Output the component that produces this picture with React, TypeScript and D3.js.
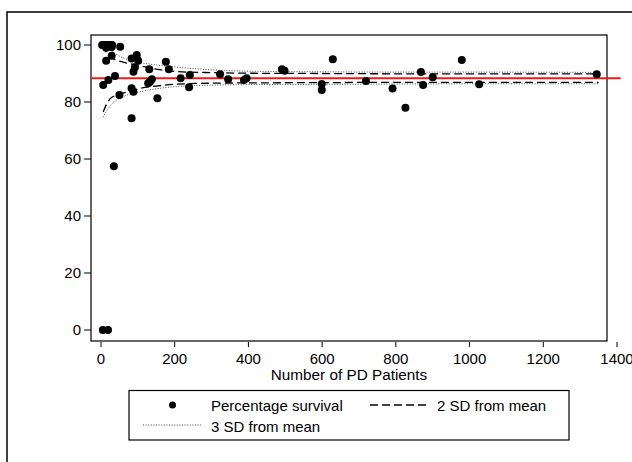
import React from 'react';
import * as d3 from 'd3';

// survival points: number of PD patients vs percentage survival
const patients = [
  3, 6, 9, 12, 16, 20, 25, 30, 14, 29, 52,
  14, 29, 83, 97, 101, 88, 92, 131, 176, 184, 216, 241, 323, 345, 388, 395,
  6, 20, 38, 83, 88, 50, 128, 138, 133, 153, 239, 83, 35, 5, 19,
  491, 498, 629, 599, 599, 719, 791, 826, 868, 874, 900, 979, 1026, 1345,
];
const survival = [
  100, 100, 100, 100, 100, 100, 100, 100, 99, 99.3, 99.4,
  94.5, 96.2, 95.3, 96.5, 94.5, 90.6, 92.2, 91.5, 94.1, 91.5, 88.3, 89.5, 89.7, 88, 87.7, 88.3,
  86, 87.7, 89.1, 84.8, 83.6, 82.5, 86.6, 88, 87.1, 81.3, 85.2, 74.3, 57.5, 0, 0,
  91.5, 91, 95, 86.3, 84.2, 87.4, 84.7, 78, 90.5, 86, 88.7, 94.7, 86.2, 89.7,
];

const meanSurvival = 88.3;

// control limits
const limitN = [6, 10, 15, 25, 40, 60, 100, 150, 200, 300, 400, 600, 800, 1000, 1350];
const lower2 = [76.5, 77.8, 79.2, 81.2, 82.3, 83.1, 84.6, 85.6, 86.2, 86.6, 86.7, 86.8, 86.9, 86.9, 86.9];
const upper2 = [100, 98.6, 97.3, 95.8, 94.8, 94.0, 92.9, 91.5, 90.7, 90.3, 90.1, 90.0, 89.9, 89.9, 89.9];
const lower3 = [74.6, 75.8, 76.8, 78.6, 80.4, 81.9, 83.4, 84.6, 85.4, 85.9, 86.1, 86.2, 86.3, 86.4, 86.4];
const upper3 = [101, 100.2, 99.4, 98.2, 96.8, 95.5, 94.0, 93.0, 92.3, 91.3, 90.8, 90.6, 90.5, 90.5, 90.4];

const xTicks = [0, 200, 400, 600, 800, 1000, 1200, 1400];
const yTicks = [0, 20, 40, 60, 80, 100];

const font = '"Liberation Sans", Arial, sans-serif';

export default function App() {
  const width = 632;
  const height = 462;
  const box = { left: 91, top: 35, right: 607, bottom: 341 };

  const x = d3.scaleLinear().domain([0, 1400]).range([101, 617]);
  const y = d3.scaleLinear().domain([0, 100]).range([330, 45]);

  const limitLine = (vals: number[]) =>
    d3.line<number>()
      .x((d, i) => x(limitN[i]))
      .y(d => y(d))
      .curve(d3.curveMonotoneX)(vals) || '';

  return (
    <div style={{ position: 'absolute', left: 0, top: 0 }}>
      <svg width={width} height={height} style={{ display: 'block', background: '#fff' }}>
        <rect x={7} y={12} width={700} height={600} fill="none" stroke="#000" strokeWidth={1.5} />

        <defs>
          <clipPath id="plotclip">
            <rect x={box.left} y={box.top} width={box.right - box.left} height={box.bottom - box.top} />
          </clipPath>
        </defs>

        {/* plot frame */}
        <rect x={box.left} y={box.top} width={box.right - box.left} height={box.bottom - box.top}
          fill="none" stroke="#000" strokeWidth={1.2} />

        {/* y axis */}
        {yTicks.map(t => (
          <g key={'y' + t}>
            <line x1={box.left - 7} x2={box.left} y1={y(t)} y2={y(t)} stroke="#000" />
            <text x={box.left - 10} y={y(t) + 5.3} textAnchor="end" fontFamily={font} fontSize={15}>{t}</text>
          </g>
        ))}

        {/* x axis */}
        {xTicks.map(t => (
          <g key={'x' + t}>
            <line x1={x(t)} x2={x(t)} y1={box.bottom + 1} y2={box.bottom + 6} stroke="#000" />
            <text x={x(t)} y={363.5} textAnchor="middle" fontFamily={font} fontSize={15}>{t}</text>
          </g>
        ))}
        <text x={(box.left + box.right) / 2} y={379.5} textAnchor="middle" fontFamily={font} fontSize={15.3}>
          Number of PD Patients
        </text>

        {/* mean line */}
        <line x1={box.left} x2={x(1410)} y1={y(meanSurvival)} y2={y(meanSurvival)} stroke="#f01818" strokeWidth={2} />

        <g clipPath="url(#plotclip)">
          <path d={limitLine(lower3)} fill="none" stroke="#444" strokeWidth={1} strokeDasharray="1 1.6" />
          <path d={limitLine(upper3)} fill="none" stroke="#444" strokeWidth={1} strokeDasharray="1 1.6" />
          <path d={limitLine(lower2)} fill="none" stroke="#000" strokeWidth={1.3} strokeDasharray="8 4" />
          <path d={limitLine(upper2)} fill="none" stroke="#000" strokeWidth={1.3} strokeDasharray="8 4" />
        </g>

        {patients.map((n, i) => (
          <circle key={i} cx={x(n)} cy={y(survival[i])} r={4} fill="#000" />
        ))}

        {/* legend */}
        <rect x={129} y={390.5} width={440} height={49.5} fill="none" stroke="#000" strokeWidth={1.2} />
        <circle cx={172.5} cy={405} r={3.5} fill="#000" />
        <text x={211} y={410.5} fontFamily={font} fontSize={15}>Percentage survival</text>
        <line x1={370} x2={428} y1={405} y2={405} stroke="#000" strokeWidth={1.3} strokeDasharray="8 4" />
        <text x={437} y={410.5} fontFamily={font} fontSize={15}>2 SD from mean</text>
        <line x1={143} x2={201} y1={425} y2={425} stroke="#444" strokeWidth={1} strokeDasharray="1 1.6" />
        <text x={211} y={431.5} fontFamily={font} fontSize={15}>3 SD from mean</text>
      </svg>
    </div>
  );
}
